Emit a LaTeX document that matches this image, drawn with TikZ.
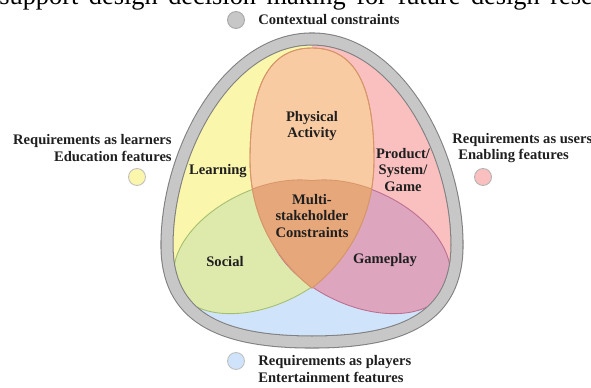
\documentclass[tikz,border=0pt]{standalone}
\usepackage{fontspec}
\setmainfont{Liberation Serif}
\usepackage{tikz}
\usetikzlibrary{positioning, calc, backgrounds, shapes}

\definecolor{rimgray}{RGB}{199,199,199}
\definecolor{rimedge}{RGB}{128,128,128}
\definecolor{bluereg}{RGB}{207,228,250}
\definecolor{yellowreg}{RGB}{250,246,172}
\definecolor{pinkreg}{RGB}{250,192,192}
\definecolor{orangereg}{RGB}{249,203,162}
\definecolor{orangeedge}{RGB}{214,150,105}
\definecolor{multireg}{RGB}{230,167,122}
\definecolor{greenreg}{RGB}{222,233,172}
\definecolor{greenedge}{RGB}{165,190,110}
\definecolor{mauvereg}{RGB}{221,166,190}
\definecolor{mauveedge}{RGB}{190,110,145}

\newcommand{\eggpath}{(312,342) .. controls (406,342) and (457,316) .. (457,245) .. controls (457,152) and (397,39) .. (312,39) .. controls (227,39) and (167,152) .. (167,245) .. controls (167,316) and (218,342) .. (312,342) -- cycle}
\newcommand{\physpath}{(312,48) .. controls (360,48) and (374,95) .. (374,160) .. controls (374,220) and (345,262) .. (312,288) .. controls (279,262) and (250,220) .. (250,160) .. controls (250,95) and (264,48) .. (312,48) -- cycle}

\begin{document}
\begin{tikzpicture}[x=0.02cm, y=-0.02cm,
  lbl/.style={font=\fontsize{8.3}{9.4}\selectfont\bfseries, text=black!88, inner sep=0pt, align=center},
  dot/.style={circle, inner sep=0pt, minimum size=0.34cm, line width=0.5pt},
  socialrot/.style={rotate around={25:(265,247)}},
  gamerot/.style={rotate around={-25:(359,247)}}]

\useasboundingbox (0,0) rectangle (591,388);

\node[anchor=base west, inner sep=0pt, font=\fontsize{15}{18}\selectfont] (toptext) at (-1,5) {\spaceskip=0.4em support design decision making for future design research};

\begin{scope}
\clip \eggpath;
\fill[bluereg] (150,20) rectangle (480,360);
\fill[yellowreg] (312,20) -- (312,200) -- (260,250) -- (190,300) -- (150,300) -- (150,20) -- cycle;
\fill[pinkreg] (312,20) -- (312,200) -- (364,250) -- (434,300) -- (474,300) -- (474,20) -- cycle;
\end{scope}

\draw[greenedge, fill=greenreg, line width=0.5pt, socialrot] (265,247) ellipse [x radius=97, y radius=58];
\draw[mauveedge, fill=mauvereg, line width=0.5pt, gamerot] (359,247) ellipse [x radius=97, y radius=58];

\draw[orangeedge, fill=orangereg, line width=0.5pt] \physpath;

\begin{scope}
\clip \physpath;
\draw[orangeedge, line width=1pt, socialrot] (265,247) ellipse [x radius=97, y radius=58];
\draw[orangeedge, line width=1pt, gamerot] (359,247) ellipse [x radius=97, y radius=58];
\fill[multireg, socialrot] (265,247) ellipse [x radius=97, y radius=58];
\fill[multireg, gamerot] (359,247) ellipse [x radius=97, y radius=58];
\end{scope}
\draw[orangeedge, line width=0.5pt] \physpath;

\draw[rimedge, line width=0.6pt, double=rimgray, double distance=0.22cm] \eggpath;

\node[lbl] (physical) at (312,126) {Physical\\Activity};
\node[lbl] (learning) at (218,171) {Learning};
\node[lbl] (product) at (403,170) {Product/\\System/\\Game};
\node[lbl] (multi) at (312,216) {Multi-\\stakeholder\\Constraints};
\node[lbl] (social) at (225,262) {Social};
\node[lbl] (gameplay) at (385,260) {Gameplay};

\node[dot, fill=rimgray, draw=black!35] (ctxdot) at (236,20) {};
\node[lbl, right=0.26cm of ctxdot] (ctxtext) {Contextual constraints};

\node[lbl, align=right, anchor=east] (learners) at (172,148) {Requirements as learners\\Education features};
\node[dot, fill=yellowreg, draw=black!25] (learnersdot) at (137,177) {};

\node[lbl, align=left, anchor=west] (users) at (452,148) {Requirements as users\\\hspace*{0.12cm}Enabling features};
\node[dot, fill=pinkreg, draw=black!30] (usersdot) at (483,177) {};

\node[dot, fill=bluereg, draw=black!25] (playersdot) at (236,361) {};
\node[lbl, align=left, anchor=west] (players) at (258,369) {Requirements as players\\Entertainment features};

\end{tikzpicture}
\end{document}
